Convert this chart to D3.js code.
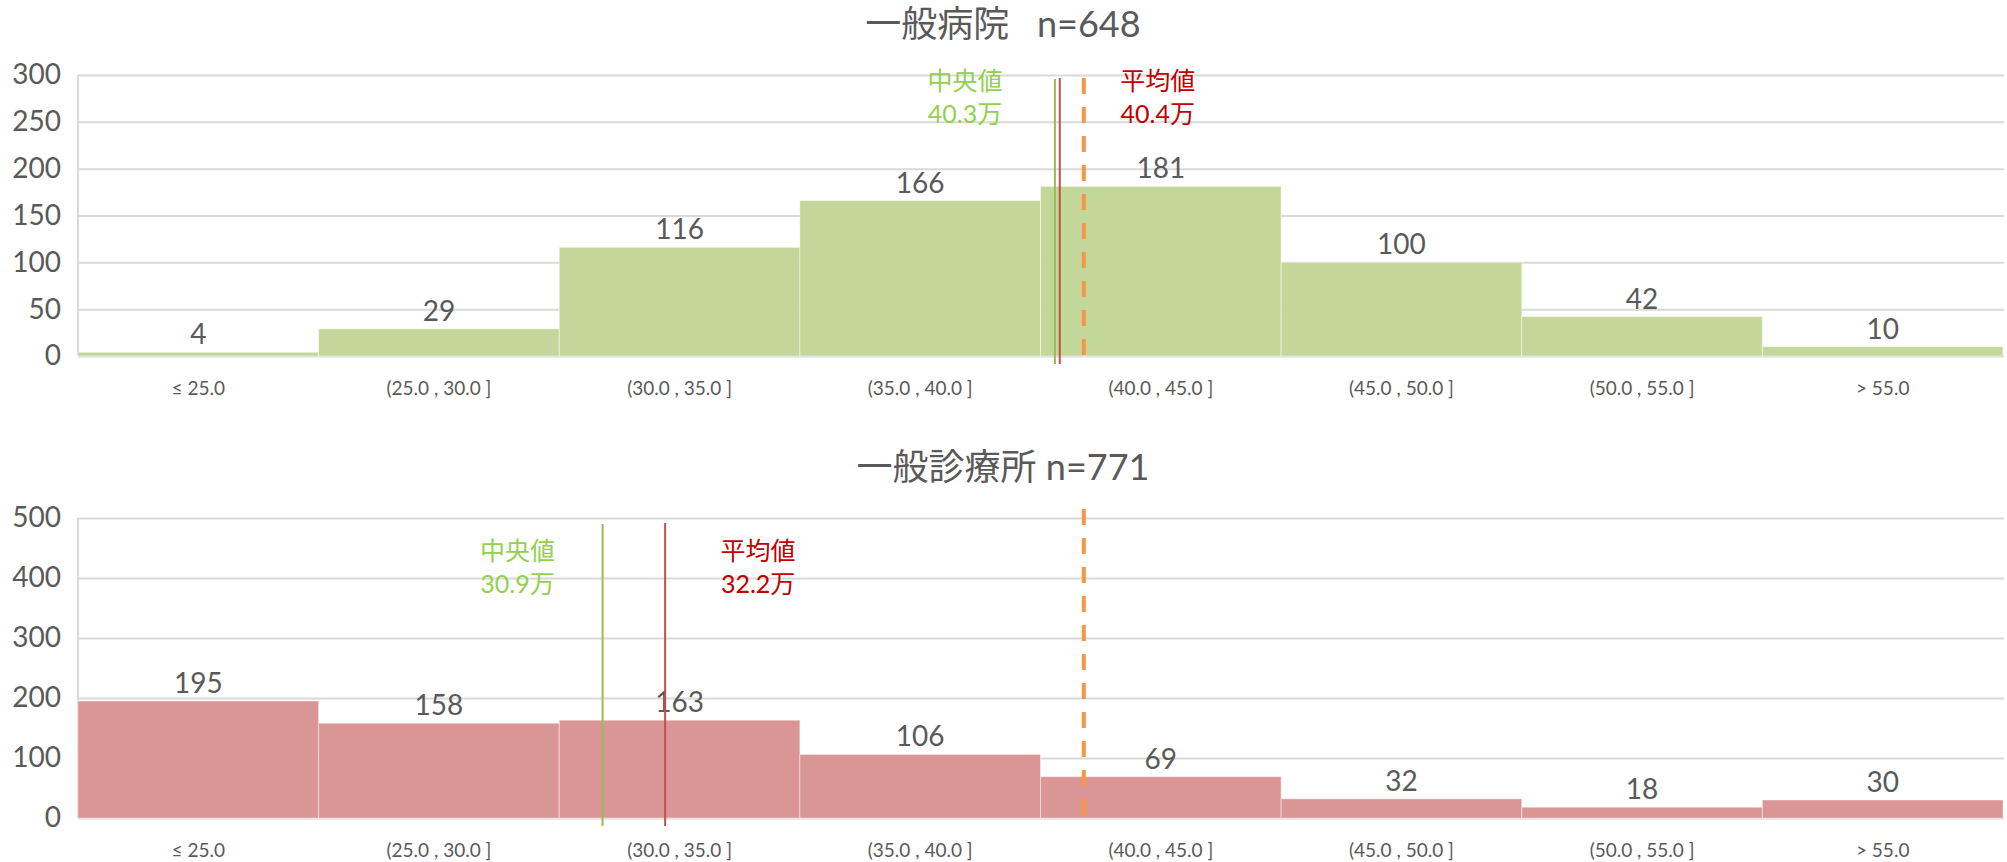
<!DOCTYPE html>
<html>
<head>
<meta charset="utf-8">
<script src="https://cdn.jsdelivr.net/npm/d3@7"></script>
<style>
  html, body { margin: 0; padding: 0; background: #ffffff; }
  svg { display: block; }
  text { font-family: Lato, "Noto Sans CJK JP", sans-serif; }
</style>
</head>
<body>
<svg id="chart" width="2007" height="862"></svg>
<script>
// Salary bins (万円) shared by both histograms
const categories = ["≤ 25.0", "(25.0 , 30.0 ]", "(30.0 , 35.0 ]", "(35.0 , 40.0 ]",
                    "(40.0 , 45.0 ]", "(45.0 , 50.0 ]", "(50.0 , 55.0 ]", "> 55.0"];
const binRange = [20, 60];          // value span covered by the eight 5万 bins

// 一般病院
const hospitalTitle = "一般病院   n=648";
const hospitalCounts = [4, 29, 116, 166, 181, 100, 42, 10];
const hospitalTicks = [0, 50, 100, 150, 200, 250, 300];
const hospitalMedian = 40.3;
const hospitalMean = 40.4;

// 一般診療所
const clinicTitle = "一般診療所 n=771";
const clinicCounts = [195, 158, 163, 106, 69, 32, 18, 30];
const clinicTicks = [0, 100, 200, 300, 400, 500];
const clinicMedian = 30.9;
const clinicMean = 32.2;

// Common reference line drawn in both panels
const referenceValue = 40.9;

const svg = d3.select("#chart");
const left = 78, right = 2003;
const textColor = "#595959";

const band = d3.scaleBand().domain(categories).range([left, right]).padding(0);
const xVal = d3.scaleLinear().domain(binRange).range([left, right]);

function panel(cfg) {
  const g = svg.append("g");
  const y = d3.scaleLinear().domain([0, d3.max(cfg.ticks)]).range([cfg.bottom, cfg.top]);

  // title
  g.append("text")
    .attr("x", 1003).attr("y", cfg.titleY)
    .attr("text-anchor", "middle")
    .attr("font-size", 36)
    .attr("fill", textColor)
    .style("white-space", "pre")
    .text(cfg.title);

  // y axis with gridlines
  const yAxis = d3.axisLeft(y).tickValues(cfg.ticks).tickSize(-(right + 1 - left)).tickPadding(17);
  const ya = g.append("g").attr("transform", `translate(${left},0)`).call(yAxis);
  ya.select(".domain").remove();
  ya.selectAll(".tick line").attr("stroke", "#d9d9d9").attr("stroke-width", 2);
  ya.selectAll(".tick text").attr("font-size", 28).attr("fill", textColor)
    .attr("font-family", "Lato, sans-serif");

  // left frame line
  g.append("line")
    .attr("x1", left).attr("x2", left)
    .attr("y1", cfg.top).attr("y2", cfg.bottom)
    .attr("stroke", "#d9d9d9").attr("stroke-width", 2);

  // bars
  g.selectAll("rect.bar").data(cfg.counts).join("rect")
    .attr("class", "bar")
    .attr("x", (d, i) => band(categories[i]))
    .attr("width", band.bandwidth())
    .attr("y", d => y(d))
    .attr("height", d => cfg.bottom - y(d))
    .attr("fill", cfg.color)
    .attr("stroke", "#ffffff").attr("stroke-opacity", 0.45).attr("stroke-width", 1);

  // value labels
  g.selectAll("text.val").data(cfg.counts).join("text")
    .attr("class", "val")
    .attr("x", (d, i) => band(categories[i]) + band.bandwidth() / 2)
    .attr("y", d => y(d) - 8)
    .attr("text-anchor", "middle")
    .attr("font-size", 28)
    .attr("fill", textColor)
    .text(d => d);

  // category axis
  const xAxis = d3.axisBottom(band).tickSize(0).tickPadding(26);
  const xa = g.append("g").attr("transform", `translate(0,${cfg.bottom})`).call(xAxis);
  xa.select(".domain").remove();
  xa.selectAll(".tick text").attr("font-size", 19).attr("fill", textColor)
    .attr("font-family", "Lato, sans-serif");

  // reference (dashed) line
  g.append("line")
    .attr("x1", xVal(referenceValue)).attr("x2", xVal(referenceValue))
    .attr("y1", cfg.dashTop).attr("y2", cfg.bottom)
    .attr("stroke", "#f79646").attr("stroke-width", 4)
    .attr("stroke-dasharray", "16 13");

  // median line + label
  const mx = xVal(cfg.median);
  g.append("line")
    .attr("x1", mx).attr("x2", mx)
    .attr("y1", cfg.lineTop).attr("y2", cfg.bottom + 8)
    .attr("stroke", "#9bbb59").attr("stroke-width", 2);
  const ml = g.append("text")
    .attr("text-anchor", "middle")
    .attr("font-size", 25).attr("fill", "#92d050");
  ml.append("tspan").attr("x", mx - cfg.labelGap).attr("y", cfg.labelY).text("中央値");
  ml.append("tspan").attr("x", mx - cfg.labelGap).attr("y", cfg.labelY + 33).text(cfg.median.toFixed(1) + "万");

  // mean line + label
  const ax = xVal(cfg.mean);
  g.append("line")
    .attr("x1", ax).attr("x2", ax)
    .attr("y1", cfg.lineTop - 1).attr("y2", cfg.bottom + 8)
    .attr("stroke", "#c0504d").attr("stroke-width", 2);
  const al = g.append("text")
    .attr("text-anchor", "middle")
    .attr("font-size", 25).attr("fill", "#c00000");
  al.append("tspan").attr("x", ax + cfg.labelGap + 8).attr("y", cfg.labelY).text("平均値");
  al.append("tspan").attr("x", ax + cfg.labelGap + 8).attr("y", cfg.labelY + 33).text(cfg.mean.toFixed(1) + "万");
}

panel({
  title: hospitalTitle, titleY: 37,
  counts: hospitalCounts, ticks: hospitalTicks,
  top: 75, bottom: 356,
  color: "#c4d79b",
  median: hospitalMedian, mean: hospitalMean,
  lineTop: 79, dashTop: 78, labelY: 90, labelGap: 90
});

panel({
  title: clinicTitle, titleY: 480,
  counts: clinicCounts, ticks: clinicTicks,
  top: 518, bottom: 818,
  color: "#d99694",
  median: clinicMedian, mean: clinicMean,
  lineTop: 524, dashTop: 509, labelY: 560, labelGap: 85
});
</script>
</body>
</html>
